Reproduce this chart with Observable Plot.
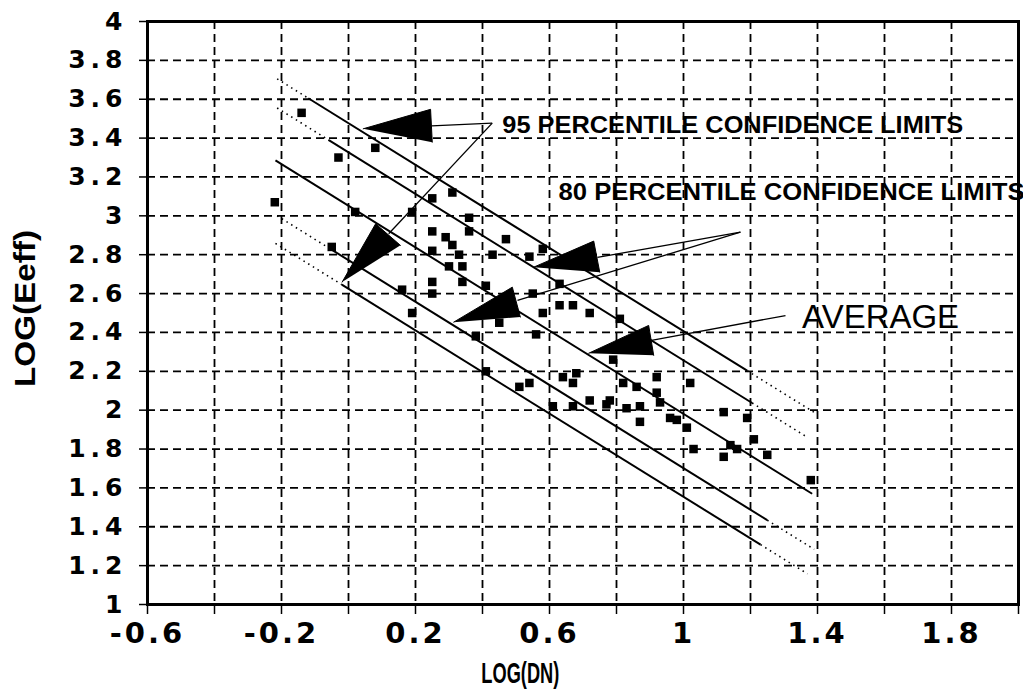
<!DOCTYPE html>
<html><head><meta charset="utf-8">
<script src="https://cdn.jsdelivr.net/npm/d3@7"></script>
<script src="https://cdn.jsdelivr.net/npm/@observablehq/plot@0.6"></script>
<style>
html,body{margin:0;padding:0;background:#fff;}
#chart{width:1023px;height:698px;overflow:hidden;}
svg{display:block;}
</style></head><body><div id="chart"></div>
<script>
// ---- data ----
const pointX = [-0.14,0.08,-0.03,-0.22,0.02,0.19,0.25,0.31,0.36,0.36,0.25,0.29,0.31,0.33,0.25,0.47,0.43,0.54,0.58,-0.05,0.30,0.34,0.34,0.41,0.25,0.25,0.16,0.19,0.55,0.63,0.63,0.67,0.58,0.45,0.38,0.56,0.41,0.51,0.54,0.64,0.67,0.68,0.61,0.67,0.72,0.81,0.79,0.82,0.86,0.92,0.92,0.93,1.02,0.72,0.78,0.77,0.83,0.87,0.87,0.96,0.98,1.01,1.12,1.19,1.21,1.03,1.14,1.16,1.12,1.25,1.38];
const pointY = [3.53,3.35,3.30,3.07,3.02,3.02,3.09,3.12,2.99,2.92,2.92,2.89,2.85,2.80,2.82,2.88,2.80,2.79,2.83,2.84,2.74,2.74,2.66,2.64,2.66,2.60,2.62,2.50,2.60,2.65,2.54,2.54,2.50,2.45,2.38,2.39,2.20,2.12,2.14,2.17,2.14,2.19,2.02,2.02,2.50,2.47,2.26,2.14,2.12,2.17,2.09,2.04,2.14,2.05,2.05,2.03,2.01,2.02,1.94,1.96,1.95,1.91,1.99,1.96,1.85,1.80,1.82,1.80,1.76,1.77,1.64];

// fitted lines: [x1, y1, x2, y2]
const solidSegments = [
  [-0.12, 3.605, 1.19, 2.203],   // upper 95%
  [-0.06, 3.391, 1.205, 2.037],  // upper 80%
  [-0.218, 3.285, 1.384, 1.570], // average
  [-0.06, 2.836, 1.25, 1.434],   // lower 80%
  [-0.02, 2.646, 1.23, 1.308]    // lower 95%
];
const dottedSegments = [
  [-0.213, 3.705, -0.12, 3.605],
  [1.19, 2.203, 1.39, 1.989],
  [-0.213, 3.555, -0.06, 3.391],
  [1.205, 2.037, 1.37, 1.860],
  [-0.213, 3.000, -0.06, 2.836],
  [1.25, 1.434, 1.39, 1.284],
  [-0.218, 2.858, -0.02, 2.646],
  [1.23, 1.308, 1.37, 1.158]
];

// annotation arrows
const arrowHeads = [
  [[0.044,3.448],[0.245,3.548],[0.250,3.379]],
  [[-0.019,2.659],[0.081,2.959],[0.155,2.848]],
  [[0.553,2.736],[0.732,2.870],[0.750,2.710]],
  [[0.314,2.453],[0.489,2.633],[0.513,2.479]],
  [[0.717,2.293],[0.896,2.436],[0.911,2.282]]
];
const leaderLines = [
  [0.248, 3.463, 0.429, 3.477],
  [0.429, 3.477, 0.120, 2.908],
  [0.743, 2.786, 1.170, 2.916],
  [1.170, 2.916, 0.5045, 2.565],
  [0.9045, 2.359, 1.3045, 2.487]
];
const annotText = ["95 PERCENTILE CONFIDENCE LIMITS", "80 PERCENTILE CONFIDENCE LIMITS", "AVERAGE"];
const annotX = [0.459, 0.627, 1.354];
const annotY = [3.465, 3.120, 2.477];

// axes
const xTickVals = [-0.6,-0.4,-0.2,0,0.2,0.4,0.6,0.8,1,1.2,1.4,1.6,1.8,2.0];
const xLabelVals = [-0.6,-0.2,0.2,0.6,1,1.4,1.8];
const xTickLabels = ["-0.6","-0.2","0.2","0.6","1","1.4","1.8"];
const yTickVals = [1,1.2,1.4,1.6,1.8,2,2.2,2.4,2.6,2.8,3,3.2,3.4,3.6,3.8,4];
const yTickLabels = ["1","1.2","1.4","1.6","1.8","2","2.2","2.4","2.6","2.8","3","3.2","3.4","3.6","3.8","4"];
const xGridVals = [-0.4,-0.2,0,0.2,0.4,0.6,0.8,1,1.2,1.4,1.6,1.8];
const yGridVals = [1.2,1.4,1.6,1.8,2,2.2,2.4,2.6,2.8,3,3.2,3.4,3.6,3.8];
const xTitle = "LOG(DN)", yTitle = "LOG(Eeff)";
const xTitlePos = 0.513, yTitlePos = 2.523;

// ---- build tables ----
const points = pointX.map((x, i) => ({x, y: pointY[i]}));
const toSeg = s => ({x1: s[0], y1: s[1], x2: s[2], y2: s[3]});
const heads = arrowHeads.flatMap((h, k) => h.map(([x, y]) => ({x, y, k})));
const annots = annotText.map((t, i) => ({t, x: annotX[i], y: annotY[i]}));

const FONT = "'DejaVu Sans', Verdana, sans-serif";
const LFONT = "'Liberation Sans', Arial, Helvetica, sans-serif";

const chart = Plot.plot({
  width: 1023,
  height: 698,
  marginLeft: 147,
  marginRight: 5,
  marginTop: 21,
  marginBottom: 94,
  x: {domain: [-0.6, 2.0]},
  y: {domain: [1, 4]},
  marks: [
    Plot.gridX({ticks: xGridVals, stroke: "black", strokeOpacity: 1, strokeWidth: 1.8, strokeDasharray: "8,5"}),
    Plot.gridY({ticks: yGridVals, stroke: "black", strokeOpacity: 1, strokeWidth: 1.8, strokeDasharray: "8,5"}),
    Plot.axisX({ticks: xTickVals, tickSize: 10, tickFormat: () => "", label: null, stroke: "black", strokeWidth: 1.5}),
    Plot.axisY({ticks: yTickVals, tickSize: 8, tickFormat: () => "", label: null, stroke: "black", strokeWidth: 1.5}),
    // text group 0: x tick labels
    Plot.text(xLabelVals, {x: d => d, frameAnchor: "bottom", dy: 38, textAnchor: "middle", text: (d, i) => xTickLabels[i],
      fontSize: 29, fontWeight: "bold", fontFamily: FONT, fill: "black"}),
    // text group 1: y tick labels
    Plot.text(yTickVals, {y: d => d, frameAnchor: "left", dx: -20, textAnchor: "end", text: (d, i) => yTickLabels[i],
      fontSize: 25, fontWeight: "bold", fontFamily: FONT, fill: "black"}),
    // text group 2: x title
    Plot.text([xTitle], {x: xTitlePos, frameAnchor: "bottom", dy: 78, textAnchor: "middle", text: d => d,
      fontSize: 30, fontWeight: "bold", fontFamily: LFONT, fill: "black"}),
    // text group 3: y title
    Plot.text([yTitle], {y: yTitlePos, frameAnchor: "left", dx: -122, rotate: -90, textAnchor: "middle", text: d => d,
      fontSize: 29, fontWeight: "bold", fontFamily: LFONT, fill: "black"}),
    Plot.link(dottedSegments.map(toSeg), {x1: "x1", y1: "y1", x2: "x2", y2: "y2", stroke: "black", strokeWidth: 1.6, strokeDasharray: "1.5,4"}),
    Plot.link(solidSegments.map(toSeg), {x1: "x1", y1: "y1", x2: "x2", y2: "y2", stroke: "black", strokeWidth: 2}),
    Plot.dot(points, {x: "x", y: "y", symbol: "square", r: 4.8, fill: "black", stroke: "none"}),
    Plot.link(leaderLines.map(toSeg), {x1: "x1", y1: "y1", x2: "x2", y2: "y2", stroke: "black", strokeWidth: 1.3}),
    Plot.line(heads, {x: "x", y: "y", z: "k", fill: "black", stroke: "black", strokeWidth: 1}),
    // text group 4: annotations
    Plot.text(annots, {x: "x", y: "y", text: "t", textAnchor: "start", fontSize: 24, fontWeight: "bold",
      fontFamily: LFONT, fill: "black"}),
    Plot.frame({stroke: "black", strokeWidth: 3})
  ]
});
document.getElementById("chart").appendChild(chart);

const groups = d3.select(chart).selectAll('g[aria-label="text"]').nodes();
d3.select(groups[0]).selectAll("text").style("letter-spacing", "3px");
d3.select(groups[1]).selectAll("text").style("letter-spacing", "5px");
d3.select(groups[2]).selectAll("text").attr("textLength", 78).attr("lengthAdjust", "spacingAndGlyphs");
d3.select(groups[3]).selectAll("text").attr("textLength", 157).attr("lengthAdjust", "spacingAndGlyphs");
const annotLens = [461, 466, 157];
d3.select(groups[4]).selectAll("text").each(function(d, i) {
  const t = d3.select(this).attr("textLength", annotLens[i]).attr("lengthAdjust", "spacingAndGlyphs");
  if (i === 2) t.attr("font-size", 33).attr("font-weight", "normal");
});
</script>
</body></html>
